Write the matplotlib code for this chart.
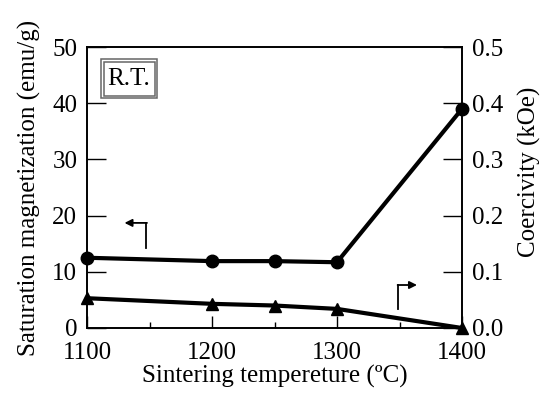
import matplotlib
matplotlib.use("Agg")
import matplotlib.pyplot as plt
from matplotlib.patches import Rectangle

plt.rcParams['font.family'] = ['Liberation Serif', 'DejaVu Serif']

temps = [1100, 1200, 1250, 1300, 1400]
magnetization = [12.5, 11.9, 11.9, 11.7, 39.0]   # emu/g
coercivity = [0.053, 0.043, 0.040, 0.034, 0.0]    # kOe
fs = 18

fig = plt.figure(figsize=(5.48, 3.94), dpi=100)
ax = fig.add_axes([87 / 548, 1 - 328 / 394, 375 / 548, 281 / 394])
ax2 = ax.twinx()

ax.plot(temps, magnetization, color='black', lw=3, marker='o', ms=9, clip_on=False, zorder=5)
ax2.plot(temps, coercivity, color='black', lw=3, marker='^', ms=9, clip_on=False, zorder=5)

ax.set_xlim(1100, 1400)
ax.set_ylim(0, 50)
ax2.set_ylim(0, 0.5)
ax.set_xticks([1100, 1200, 1300, 1400])
ax.set_xticks([1150, 1250, 1350], minor=True)
ax.set_yticks([0, 10, 20, 30, 40, 50])
ax2.set_yticks([0, 0.1, 0.2, 0.3, 0.4, 0.5])
ax2.set_yticklabels(['0.0', '0.1', '0.2', '0.3', '0.4', '0.5'])

for a in (ax, ax2):
    a.tick_params(direction='in', width=1, labelsize=fs, pad=7)
    a.tick_params(which='minor', direction='in', width=1)
    for s in a.spines.values():
        s.set_linewidth(1.2)
ax.tick_params(axis='y', length=14)
ax2.tick_params(axis='y', length=14)
ax.tick_params(axis='x', length=9, pad=10)
ax.tick_params(axis='x', which='minor', length=4.5)

ax.set_xlabel('Sintering tempereture (ºC)', fontsize=fs, labelpad=1)
ax.set_ylabel('Saturation magnetization (emu/g)', fontsize=fs, labelpad=8)
ax2.set_ylabel('Coercivity (kOe)', fontsize=fs)
ax2.yaxis.set_label_coords(1.15, 0.555)

# left arrow -> magnetization axis
ax.plot([1147.5, 1147.5], [14.2, 18.7], color='black', lw=1.3)
ax.annotate('', xy=(1130, 18.7), xytext=(1148, 18.7),
            arrowprops=dict(arrowstyle='-|>', color='black', lw=1.3, mutation_scale=11,
                            shrinkA=0, shrinkB=0))
# right arrow -> coercivity axis
ax2.plot([1349, 1349], [0.034, 0.0765], color='black', lw=1.3)
ax2.annotate('', xy=(1364, 0.0765), xytext=(1348.5, 0.0765),
             arrowprops=dict(arrowstyle='-|>', color='black', lw=1.3, mutation_scale=11,
                             shrinkA=0, shrinkB=0))

# R.T. label with double frame
ax.text(0.111, 0.886, 'R.T.', transform=ax.transAxes, fontsize=fs,
        ha='center', va='center', zorder=6)
ax.add_patch(Rectangle((14 / 375, 1 - 51 / 281), 56 / 375, 39 / 281, transform=ax.transAxes,
                       fill=False, edgecolor='#666666', lw=1.1, zorder=6))
ax.add_patch(Rectangle((16.5 / 375, 1 - 48.5 / 281), 51 / 375, 34 / 281, transform=ax.transAxes,
                       fill=False, edgecolor='#666666', lw=1.1, zorder=6))

fig.savefig('out.png', dpi=100)
